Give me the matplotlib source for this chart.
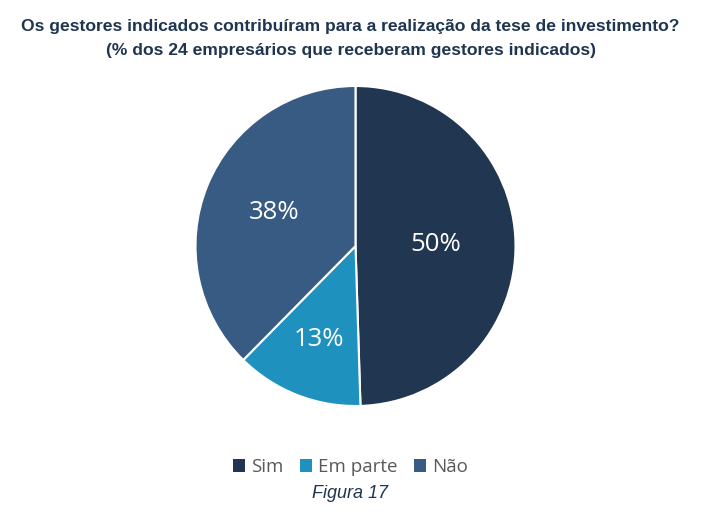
import matplotlib
matplotlib.use('Agg')
import matplotlib.pyplot as plt
from matplotlib.patches import Patch
import numpy as np

# answers as entered in the source sheet (rounded %, sum 101)
categories = ['Sim', 'Em parte', 'Não']
values = [50, 13, 38]
colors = ['#213651', '#1f91bf', '#385b83']

fig = plt.figure(figsize=(7.01, 5.28), dpi=100)

# pie axes: centre ~ (355, 246) px, radius ~160 px
ax = fig.add_axes([195.5 / 701, (528 - 406) / 528, 320 / 701, 320 / 528])
wedges, texts = ax.pie(
    values, colors=colors, startangle=90, counterclock=False,
    wedgeprops=dict(edgecolor='white', linewidth=1.5))
ax.set_xlim(-1, 1)
ax.set_ylim(-1, 1)
ax.set_aspect('equal')

label_r = [0.5, 0.63, 0.55]
for w, v, r in zip(wedges, values, label_r):
    ang = np.deg2rad((w.theta1 + w.theta2) / 2)
    ax.text(r * np.cos(ang), r * np.sin(ang), '%d%%' % v, color='white',
            fontsize=18.5, ha='center', va='center', family='Open Sans')

fig.text(0.5, 1 - 27 / 528,
         'Os gestores indicados contribuíram para a realização da tese de investimento?',
         ha='center', va='center', fontsize=12.6, fontweight='bold',
         color='#1f3550', family='Liberation Sans')
fig.text(0.5, 1 - 50 / 528,
         '(% dos 24 empresários que receberam gestores indicados)',
         ha='center', va='center', fontsize=12.6, fontweight='bold',
         color='#1f3550', family='Liberation Sans')

handles = [Patch(facecolor=c, label=l) for c, l in zip(colors, categories)]
leg = fig.legend(handles=handles, loc='center', bbox_to_anchor=(0.5, 1 - 467 / 528),
                 ncol=3, frameon=False, handlelength=0.65, handleheight=0.65,
                 handletextpad=0.35, columnspacing=0.85,
                 prop={'family': 'Open Sans', 'size': 13.5})
for t in leg.get_texts():
    t.set_color('#595959')

fig.text(0.5, 1 - 493 / 528, 'Figura 17', ha='center', va='center',
         fontsize=13, style='italic', color='#1f3550', family='Liberation Sans')

fig.savefig('out.png', dpi=100)
